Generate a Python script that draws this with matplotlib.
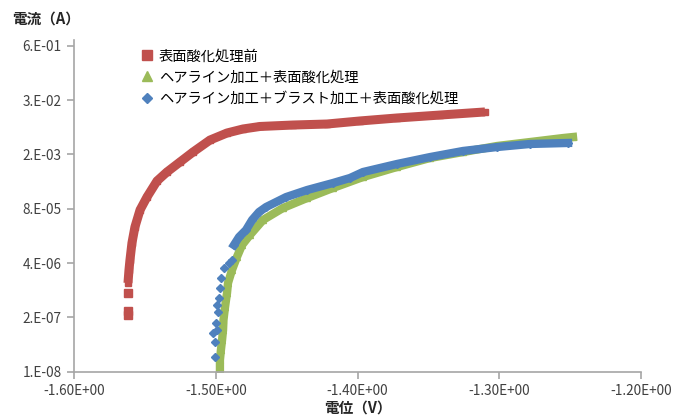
import matplotlib.pyplot as plt
from matplotlib.lines import Line2D
from matplotlib.ticker import FixedLocator, FuncFormatter, NullLocator

plt.rcParams['font.family'] = ['Noto Sans CJK JP', 'DejaVu Sans']

LABELS = ["表面酸化処理前", "ヘアライン加工＋表面酸化処理", "ヘアライン加工＋ブラスト加工＋表面酸化処理"]
COLORS = ["#C0504D", "#9BBB59", "#4F81BD"]

# 表面酸化処理前: isolated points at the foot, then the dense part
red_sparse_v = [-1.5619, -1.5619, -1.5619]
red_sparse_i = [2.28e-7, 2.84e-7, 7.67e-7]
red_v = [-1.5621, -1.5614, -1.5607, -1.5593, -1.5572, -1.5536, -1.5487, -1.5416,
         -1.5346, -1.5254, -1.5162, -1.5042, -1.4922, -1.4809, -1.4689, -1.4456,
         -1.4216, -1.3983, -1.3722, -1.3418, -1.3101]
red_i = [1.33e-6, 2.72e-6, 4.73e-6, 1.21e-5, 2.92e-5, 7.45e-5, 1.52e-4, 3.69e-4,
         6.05e-4, 1.05e-3, 1.82e-3, 3.53e-3, 5.2e-3, 6.49e-3, 7.45e-3, 8.07e-3,
         8.53e-3, 1.01e-2, 1.19e-2, 1.40e-2, 1.66e-2]

# ヘアライン加工＋表面酸化処理
green_v = [-1.4972, -1.4972, -1.4965, -1.4957, -1.4950, -1.4947, -1.4936, -1.4922,
           -1.4915, -1.4887, -1.4852, -1.4816, -1.4760, -1.4668, -1.4527, -1.4357,
           -1.4174, -1.3962, -1.3722, -1.3489, -1.3256, -1.3016, -1.2783, -1.2550,
           -1.2480]
green_i = [1.16e-8, 1.9e-8, 3.31e-8, 5.74e-8, 9.97e-8, 1.73e-7, 3.54e-7, 7.67e-7,
           1.33e-6, 2.72e-6, 5.58e-6, 1.08e-5, 1.88e-5, 4.30e-5, 8.32e-5, 1.44e-4,
           2.51e-4, 4.59e-4, 7.98e-4, 1.31e-3, 1.82e-3, 2.54e-3, 3.16e-3, 3.94e-3,
           4.17e-3]

# ヘアライン加工＋ブラスト加工＋表面酸化処理
blue_sparse_v = [-1.5007, -1.5007, -1.5021, -1.4993, -1.5000, -1.4986, -1.4993,
                 -1.4979, -1.4972, -1.4965, -1.4944, -1.4908, -1.4887]
blue_sparse_i = [2.25e-8, 5.14e-8, 8.45e-8, 9.97e-8, 1.47e-7, 2.69e-7, 3.95e-7,
                 5.82e-7, 1.01e-6, 1.75e-6, 3.04e-6, 4.01e-6, 4.73e-6]
blue_v = [-1.4873, -1.4837, -1.4788, -1.4745, -1.4696, -1.4646, -1.4505, -1.4357,
          -1.4174, -1.4054, -1.3962, -1.3722, -1.3489, -1.3256, -1.3016, -1.2783,
          -1.2515]
blue_i = [1.08e-5, 1.68e-5, 2.47e-5, 4.30e-5, 6.67e-5, 8.79e-5, 1.52e-4, 2.24e-4,
          3.30e-4, 4.35e-4, 6.05e-4, 9.42e-4, 1.38e-3, 1.93e-3, 2.40e-3, 2.84e-3,
          3.00e-3]

Y_TICKS = [1e-8 * 20 ** k for k in range(7)]
X_TICKS = [-1.6, -1.5, -1.4, -1.3, -1.2]

fig = plt.figure(figsize=(6.86, 4.16), dpi=100)
ax = fig.add_axes([0.1083, 0.1065, 0.8261, 0.7973])

ax.plot(red_sparse_v, red_sparse_i, ls="none", marker="s", ms=5.5, color=COLORS[0])
ax.plot(red_v, red_i, lw=6.5, marker="s", ms=4, color=COLORS[0],
        solid_capstyle="butt", solid_joinstyle="round")
ax.plot(green_v, green_i, lw=6, marker="^", ms=5, color=COLORS[1],
        solid_joinstyle="round")
ax.plot(blue_sparse_v, blue_sparse_i, ls="none", marker="D", ms=4.5, color=COLORS[2])
ax.plot(blue_v, blue_i, lw=6, marker="D", ms=4.5, color=COLORS[2],
        solid_joinstyle="round")

ax.set_yscale("log")
ax.set_xlim(-1.6, -1.2)
ax.set_ylim(1e-8, 0.876)
ax.yaxis.set_major_locator(FixedLocator(Y_TICKS))
ax.yaxis.set_minor_locator(NullLocator())
ax.xaxis.set_major_locator(FixedLocator(X_TICKS))


def excel_y(v, pos):
    m, e = f"{v:.0E}".split("E")
    return f"{m}.E{e}"


ax.yaxis.set_major_formatter(FuncFormatter(excel_y))
ax.xaxis.set_major_formatter(FuncFormatter(lambda v, pos: f"{v:.2E}"))

for s in ["top", "right"]:
    ax.spines[s].set_visible(False)
for s in ["left", "bottom"]:
    ax.spines[s].set_color("#A6A6A6")
    ax.spines[s].set_linewidth(1.2)
ax.tick_params(direction="out", length=5, width=1.2, color="#A6A6A6",
               labelsize=9.8, labelcolor="#404040", pad=4)

handles = [
    Line2D([], [], ls="none", marker="s", ms=7, color=COLORS[0]),
    Line2D([], [], ls="none", marker="^", ms=7, color=COLORS[1]),
    Line2D([], [], ls="none", marker="D", ms=5.5, color=COLORS[2]),
]
ax.legend(handles, LABELS, loc="upper left", bbox_to_anchor=(0.118, 0.972),
          frameon=False, fontsize=10.3, handlelength=0.8, handletextpad=0.45,
          labelspacing=0.5, borderpad=0, borderaxespad=0)

fig.text(0.017, 0.955, "電流（A）", fontsize=10.5, fontweight="bold", color="#262626",
         va="center", ha="left")
fig.text(0.521, 0.002, "電位（V）", fontsize=10.5, fontweight="bold", color="#262626",
         va="bottom", ha="center")

fig.savefig("out.png", dpi=100)
